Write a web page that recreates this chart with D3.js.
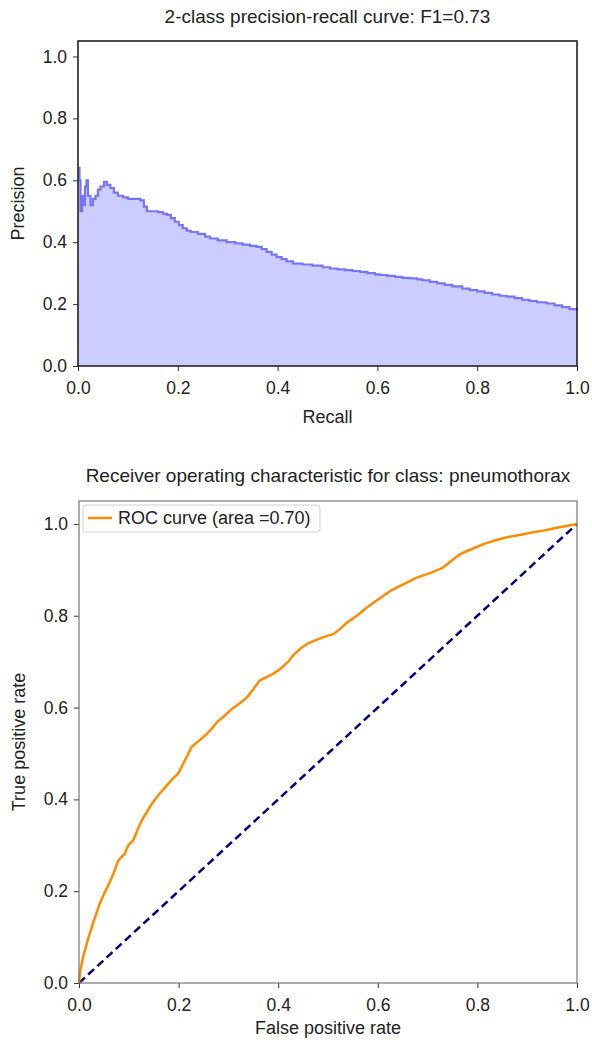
<!DOCTYPE html>
<html>
<head>
<meta charset="utf-8">
<script src="https://cdn.jsdelivr.net/npm/d3@7"></script>
<style>
  body { margin: 0; background: #fff; }
  svg { display: block; font-family: "Liberation Sans", Arial, sans-serif; }
  .tick text { fill: #222; }
</style>
</head>
<body>
<svg id="chart" width="592" height="1045"></svg>
<script>
'use strict';

// precision-recall curve (step, where=post)
const prRecall = [0.000, 0.003, 0.005, 0.008, 0.010, 0.014, 0.017, 0.020, 0.025, 0.030,
  0.035, 0.040, 0.045, 0.052, 0.058, 0.065, 0.072, 0.080, 0.090, 0.100,
  0.110, 0.125, 0.132, 0.138, 0.150, 0.160, 0.170, 0.178, 0.186, 0.194,
  0.202, 0.210, 0.218, 0.226, 0.240, 0.255, 0.265, 0.280, 0.298, 0.315,
  0.330, 0.345, 0.358, 0.368, 0.378, 0.388, 0.398, 0.408, 0.418, 0.431,
  0.450, 0.470, 0.490, 0.505, 0.520, 0.535, 0.550, 0.565, 0.580, 0.595,
  0.605, 0.620, 0.635, 0.650, 0.665, 0.680, 0.690, 0.705, 0.720, 0.735,
  0.750, 0.770, 0.785, 0.800, 0.815, 0.830, 0.845, 0.859, 0.875, 0.890,
  0.905, 0.920, 0.939, 0.955, 0.970, 0.985, 1.000];
const prPrecision = [0.640, 0.600, 0.500, 0.550, 0.520, 0.580, 0.600, 0.550, 0.520, 0.540,
  0.550, 0.570, 0.580, 0.595, 0.585, 0.575, 0.560, 0.550, 0.545, 0.540,
  0.540, 0.535, 0.515, 0.500, 0.500, 0.497, 0.492, 0.488, 0.478, 0.466,
  0.455, 0.445, 0.437, 0.433, 0.427, 0.418, 0.412, 0.406, 0.400, 0.396,
  0.392, 0.388, 0.385, 0.378, 0.369, 0.360, 0.352, 0.345, 0.338, 0.331,
  0.328, 0.324, 0.319, 0.315, 0.312, 0.310, 0.307, 0.304, 0.300, 0.296,
  0.294, 0.291, 0.288, 0.285, 0.283, 0.280, 0.277, 0.272, 0.267, 0.262,
  0.257, 0.250, 0.245, 0.241, 0.236, 0.231, 0.227, 0.224, 0.219, 0.214,
  0.210, 0.206, 0.202, 0.196, 0.190, 0.184, 0.178];

// ROC curve
const rocFpr = [0.000, 0.003, 0.009, 0.018, 0.029, 0.042, 0.052, 0.060, 0.069, 0.079,
  0.092, 0.099, 0.109, 0.118, 0.126, 0.136, 0.146, 0.160, 0.176, 0.188,
  0.199, 0.208, 0.216, 0.226, 0.240, 0.253, 0.265, 0.277, 0.290, 0.305,
  0.320, 0.337, 0.350, 0.363, 0.378, 0.392, 0.405, 0.420, 0.432, 0.444,
  0.460, 0.478, 0.495, 0.511, 0.525, 0.538, 0.558, 0.578, 0.600, 0.625,
  0.650, 0.678, 0.705, 0.731, 0.748, 0.765, 0.790, 0.812, 0.835, 0.859,
  0.885, 0.912, 0.935, 0.952, 0.975, 1.000];
const rocTpr = [0.000, 0.030, 0.060, 0.095, 0.133, 0.174, 0.198, 0.215, 0.238, 0.267,
  0.282, 0.300, 0.311, 0.335, 0.354, 0.372, 0.390, 0.410, 0.430, 0.445,
  0.456, 0.475, 0.492, 0.514, 0.527, 0.539, 0.552, 0.568, 0.580, 0.595,
  0.607, 0.622, 0.640, 0.659, 0.667, 0.675, 0.685, 0.700, 0.716, 0.728,
  0.740, 0.748, 0.755, 0.760, 0.772, 0.785, 0.800, 0.818, 0.835, 0.854,
  0.868, 0.883, 0.893, 0.905, 0.920, 0.934, 0.946, 0.956, 0.964, 0.971,
  0.976, 0.982, 0.986, 0.990, 0.995, 1.000];

const chanceLine = [0, 1];
const tickValues = [0, 0.2, 0.4, 0.6, 0.8, 1.0];

const prTitle = "2-class precision-recall curve: F1=0.73";
const rocTitle = "Receiver operating characteristic for class: pneumothorax";
const rocLegend = "ROC curve (area =0.70)";

const svg = d3.select("#chart");

function drawAxes(g, x, y, opts) {
  const w = x.range()[1], h = y.range()[0];
  const xAxis = d3.axisBottom(x).tickValues(tickValues).tickSize(5).tickPadding(6).tickFormat(d3.format(".1f"));
  const yAxis = d3.axisLeft(y).tickValues(tickValues).tickSize(5).tickPadding(6).tickFormat(d3.format(".1f"));

  const gx = g.append("g").attr("transform", `translate(0,${h})`).call(xAxis);
  const gy = g.append("g").call(yAxis);
  [gx, gy].forEach(a => {
    a.select(".domain").remove();
    a.selectAll(".tick line").attr("stroke", "#333");
    a.selectAll(".tick text").style("font-size", "17.5px");
  });
  gx.selectAll(".tick text").attr("dy", "0.95em");

  // frame
  g.append("rect")
    .attr("x", 0).attr("y", 0).attr("width", w).attr("height", h)
    .attr("fill", "none")
    .attr("stroke", opts.frameColor)
    .attr("stroke-width", opts.frameWidth);

  g.append("text")
    .attr("x", w / 2).attr("y", -opts.titleGap)
    .attr("text-anchor", "middle")
    .style("font-size", "19px").attr("fill", "#222")
    .text(opts.title);

  g.append("text")
    .attr("x", w / 2).attr("y", h + opts.xLabelGap)
    .attr("text-anchor", "middle")
    .style("font-size", "18px").attr("fill", "#222")
    .text(opts.xLabel);

  g.append("text")
    .attr("transform", `translate(${-54},${h / 2}) rotate(-90)`)
    .attr("text-anchor", "middle")
    .style("font-size", "18px").attr("fill", "#222")
    .text(opts.yLabel);
}

// ---------- precision-recall ----------
{
  const left = 78, top = 41, w = 499, h = 325;
  const g = svg.append("g").attr("transform", `translate(${left},${top})`);
  const x = d3.scaleLinear().domain([0, 1]).range([0, w]);
  const y = d3.scaleLinear().domain([0, 1.05]).range([h, 0]);
  const pts = d3.zip(prRecall, prPrecision);

  g.append("path")
    .datum(pts)
    .attr("fill", "#ccccff")
    .attr("d", d3.area().curve(d3.curveStepAfter)
      .x(d => x(d[0])).y0(y(0)).y1(d => y(d[1])));

  g.append("path")
    .datum(pts)
    .attr("fill", "none")
    .attr("stroke", "#7676f4")
    .attr("stroke-width", 2.2)
    .attr("d", d3.line().curve(d3.curveStepAfter)
      .x(d => x(d[0])).y(d => y(d[1])));

  drawAxes(g, x, y, {
    title: prTitle, xLabel: "Recall", yLabel: "Precision",
    frameColor: "#222", frameWidth: 1.6, titleGap: 18, xLabelGap: 57
  });
}

// ---------- ROC ----------
{
  const left = 79, top = 501, w = 498, h = 482;
  const g = svg.append("g").attr("transform", `translate(${left},${top})`);
  const x = d3.scaleLinear().domain([0, 1]).range([0, w]);
  const y = d3.scaleLinear().domain([0, 1.05]).range([h, 0]);

  g.append("path")
    .datum(chanceLine)
    .attr("fill", "none")
    .attr("stroke", "#000080")
    .attr("stroke-width", 2.5)
    .attr("stroke-dasharray", "8,4.5")
    .attr("d", d3.line().x(d => x(d)).y(d => y(d)));

  g.append("path")
    .datum(d3.zip(rocFpr, rocTpr))
    .attr("fill", "none")
    .attr("stroke", "#ff8c00")
    .attr("stroke-width", 2.5)
    .attr("stroke-linejoin", "round")
    .attr("d", d3.line().x(d => x(d[0])).y(d => y(d[1])));

  drawAxes(g, x, y, {
    title: rocTitle, xLabel: "False positive rate", yLabel: "True positive rate",
    frameColor: "#777", frameWidth: 1.2, titleGap: 19, xLabelGap: 51
  });

  // legend
  const lg = g.append("g").attr("transform", "translate(4,4)");
  lg.append("rect")
    .attr("width", 237).attr("height", 27).attr("rx", 3)
    .attr("fill", "#fff").attr("fill-opacity", 0.8)
    .attr("stroke", "#d0d0d0");
  lg.append("line")
    .attr("x1", 5).attr("x2", 29).attr("y1", 13).attr("y2", 13)
    .attr("stroke", "#ff8c00").attr("stroke-width", 2.5);
  lg.append("text")
    .attr("x", 35).attr("y", 13).attr("dy", "0.35em")
    .style("font-size", "18px").attr("fill", "#222")
    .text(rocLegend);
}
</script>
</body>
</html>
